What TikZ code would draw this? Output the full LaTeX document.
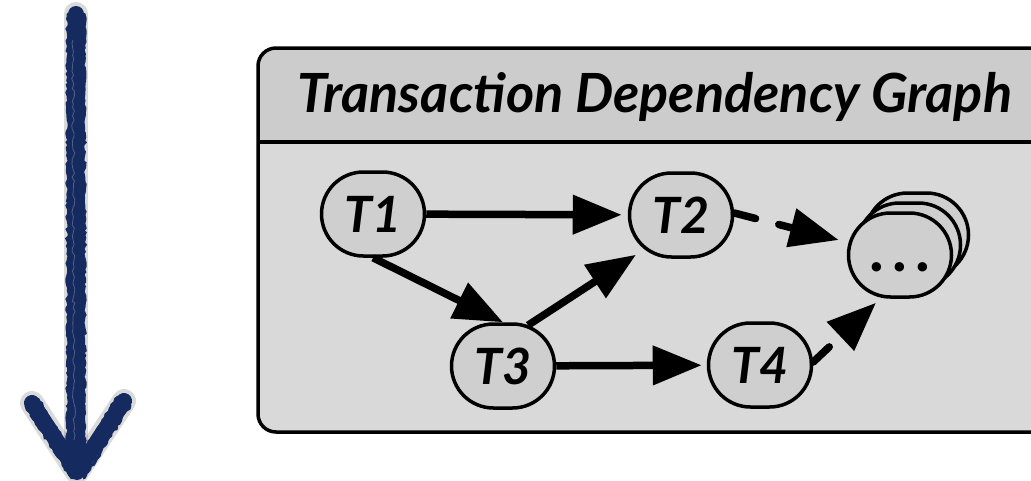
\documentclass[tikz,border=0pt]{standalone}
\usepackage{fontspec}
\setmainfont{Lato}
\usetikzlibrary{arrows.meta,calc,decorations.pathmorphing,shapes.misc}
\definecolor{bodyfill}{HTML}{D9D9D9}
\definecolor{titlefill}{HTML}{CCCCCC}
\definecolor{nodefill}{HTML}{CFCFCF}
\definecolor{navy}{HTML}{152A5E}
\tikzset{
  txn/.style={draw, line width=3.5pt, fill=nodefill, rounded rectangle,
    minimum width=103pt, minimum height=84pt, inner sep=0pt,
    font=\fontsize{50}{50}\selectfont\bfseries\itshape},
  dep/.style={line width=7.5pt, -{Triangle[length=49pt,width=38pt]}},
  weakdep/.style={dep, line cap=round, dash pattern=on 22pt off 24pt},
  chalk/.style={navy, line width=16pt, line cap=round, line join=round},
  chalkedge/.style={navy, line width=3pt, line cap=round, decorate,
    decoration={random steps, segment length=3pt, amplitude=1.2pt}},
  chalkshadow/.style={black, opacity=0.05, line width=24pt, line cap=round, line join=round},
}
\begin{document}
\begin{tikzpicture}[x=1pt,y=-1pt]
\useasboundingbox (0,0) rectangle (1031,480);
\clip (0,0) rectangle (1031,480);
% hand-drawn arrow on the left
\coordinate (atop) at (76,14);
\coordinate (abot) at (76,455);
\coordinate (atip) at (77,472);
\coordinate (awl) at (32,403);
\coordinate (awr) at (124,401);
\foreach \s in {3,6,9}{
  \draw[chalkshadow, shift={(\s,\s)}] (atop) -- (abot);
  \draw[chalkshadow, shift={(\s,\s)}] (awl) -- (atip) -- (awr);
}
\draw[chalk] (atop) -- (abot);
\draw[chalk] (awl) -- (atip) -- (awr);
\draw[chalkedge] (68,14) -- (68,455);
\draw[chalkedge] (84,14) -- (84,455);
\draw[chalkedge] (26,406) -- (72,478);
\draw[chalkedge] (38,399) -- (80,468);
\draw[chalkedge] (118,397) -- (74,468);
\draw[chalkedge] (130,405) -- (84,478);
\draw[white, opacity=0.25, line width=0.8pt, decorate, decoration={random steps, segment length=4pt, amplitude=1.5pt}] (73,40) -- (74,440);
% container box
\fill[bodyfill, rounded corners=18pt] (258,48) rectangle (1075,432);
\fill[titlefill] (258,142) {[rounded corners=18pt] -- (258,48) -- (1075,48)} -- (1075,142) -- cycle;
\draw[line width=3.5pt] (258,142) -- (1075,142);
\draw[line width=3.5pt, rounded corners=18pt] (258,48) rectangle (1075,432);
\node[anchor=base, inner sep=0pt, font=\fontsize{54}{54}\selectfont\bfseries\itshape] (title) at (655,112) {Transaction Dependency Graph};
% transactions
\node[txn] (T1) at (373,214) {T1};
\node[txn] (T2) at (681,215) {T2};
\node[txn] (T3) at (503,366) {T3};
\node[txn] (T4) at (760,365) {T4};
\node[txn] (S3) at (917,235) {};
\node[txn] (S2) at (909,245) {};
\node[txn, font=\fontsize{62}{62}\selectfont\bfseries] (S1) at (900,255) {\raisebox{-16pt}[0pt][0pt]{.\hspace{8pt}.\hspace{8pt}.}};
% dependencies
\coordinate (a32) at ($(T3.north)+(25,3)$);
\coordinate (b32) at ($(T2.south)+(-45,-4)$);
\coordinate (a2s) at ($(T2.east)+(0,-2)$);
\coordinate (b2s) at ($(S1.west)+(-8,-15)$);
\coordinate (a4s) at ($(T4.east)+(0,-3)$);
\coordinate (b4s) at ($(S1.south)+(-24,4)$);
\draw[dep, shorten >=6pt] (T1) -- (T2);
\draw[dep] (T1.south) -- (T3.north);
\draw[dep] (a32) -- (b32);
\draw[dep, shorten >=5pt] (T3) -- (T4);
\draw[weakdep] (a2s) -- (b2s);
\draw[weakdep] (a4s) -- (b4s);
\end{tikzpicture}
\end{document}
